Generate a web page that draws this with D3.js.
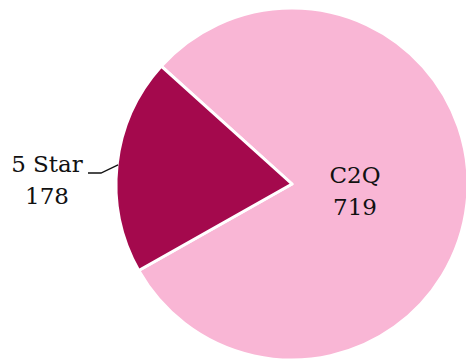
<!DOCTYPE html>
<html><head><meta charset="utf-8">
<script src="https://cdn.jsdelivr.net/npm/d3@7"></script>
<style>body{margin:0;background:#fff}text{font-family:"DejaVu Serif",serif;font-size:23px;fill:#111}</style>
</head><body><svg id="c" width="466" height="360"></svg>
<script>
const categories = ["C2Q", "5 Star"];
const values = [719, 178];
const colors = ["#f9b6d5", "#a4094d"];

const svg = d3.select("#c");
const cx = 292, cy = 184, r = 176;
const g = svg.append("g").attr("transform", `translate(${cx},${cy})`);
const start = -48 * Math.PI / 180;
const pie = d3.pie().sort(null).startAngle(start).endAngle(start + 2 * Math.PI);
const arcs = pie(values);
const arc = d3.arc().innerRadius(0).outerRadius(r);
g.selectAll("path").data(arcs).join("path")
  .attr("d", arc).attr("fill", (d, i) => colors[i])
  .attr("stroke", "#fff").attr("stroke-width", 3).attr("stroke-linejoin", "round");

// inside label for C2Q
const inner = d3.arc().innerRadius(r * 0.36).outerRadius(r * 0.36);
const c0 = inner.centroid(arcs[0]);
const t0 = g.append("text").attr("text-anchor", "middle")
  .attr("transform", `translate(${c0[0]},${c0[1]})`);
t0.append("tspan").attr("x", 0).attr("y", -8).text(categories[0]);
t0.append("tspan").attr("x", 0).attr("y", 24).text(values[0]);

// outside label for 5 Star
const a1 = arcs[1];
const mid = (a1.startAngle + a1.endAngle) / 2;
const p1 = [Math.sin(mid) * (r - 1), -Math.cos(mid) * (r - 1)];
const p2 = [-191, -11];
const p3 = [-204, -11];
g.append("polyline").attr("points", [p1, p2, p3].map(p => p.join(",")).join(" "))
  .attr("fill", "none").attr("stroke", "#111").attr("stroke-width", 1.3);
const t1 = g.append("text").attr("text-anchor", "middle").attr("transform", `translate(${-245},0)`);
t1.append("tspan").attr("x", 0).attr("y", -12).text(categories[1]);
t1.append("tspan").attr("x", 0).attr("y", 20).text(values[1]);
</script></body></html>
